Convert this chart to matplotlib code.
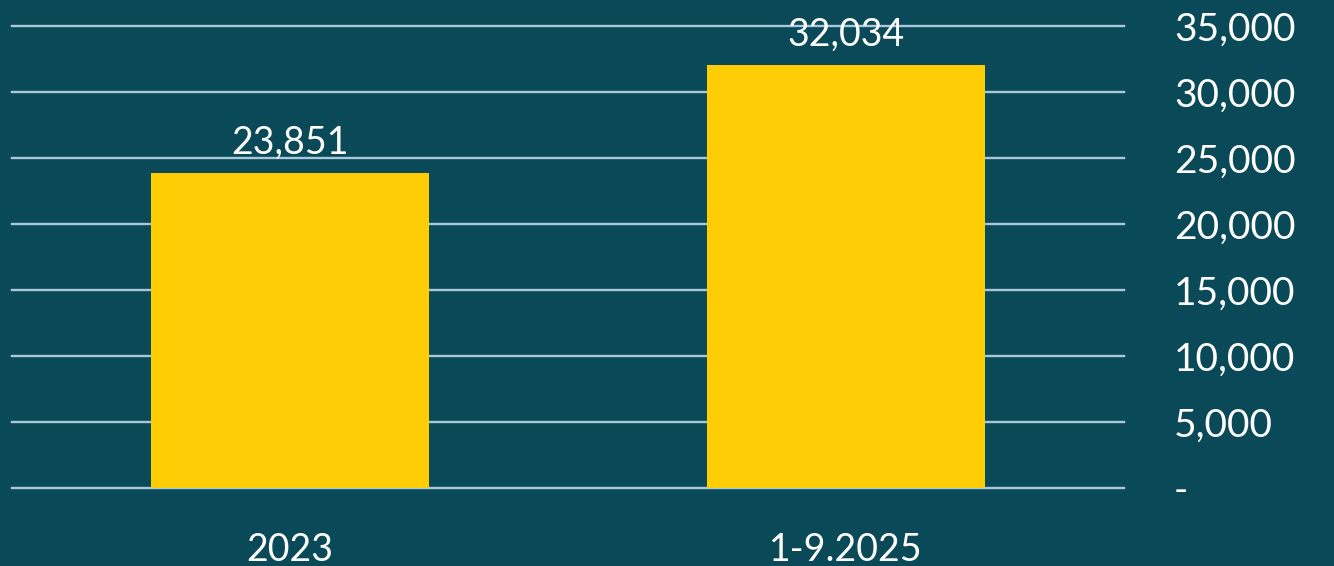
import matplotlib
matplotlib.use("Agg")
import matplotlib.pyplot as plt
from matplotlib.ticker import FuncFormatter

categories = ["2023", "1-9.2025"]
values = [23851, 32034]
yticks = [0, 5000, 10000, 15000, 20000, 25000, 30000, 35000]

bg = "#0a4a58"
bar_color = "#ffcd05"
grid_color = "#a9c8dc"

plt.rcParams['font.family'] = ['Lato', 'DejaVu Sans']

fig = plt.figure(figsize=(13.34, 5.66), dpi=100, facecolor=bg)
ax = fig.add_axes([12/1334, 1 - 488/566, 1112/1334, 462/566], facecolor=bg)

x = range(len(categories))
bars = ax.bar(x, values, width=0.5, color=bar_color, zorder=3)
ax.set_xlim(-0.5, 1.5)
ax.set_ylim(0, 35000)

ax.set_yticks(yticks)
ax.yaxis.tick_right()
ax.yaxis.set_major_formatter(FuncFormatter(lambda v, p: "-" if v == 0 else f"{int(v):,}"))
ax.tick_params(axis='y', length=0, pad=36, labelsize=28, labelcolor='white')
for lbl in ax.get_yticklabels():
    lbl.set_horizontalalignment('left')

ax.set_xticks(list(x))
ax.set_xticklabels(categories)
ax.tick_params(axis='x', length=0, pad=32, labelsize=27, labelcolor='white')

# gridlines drawn by hand so the edge lines are not clipped
for t in yticks:
    ax.axhline(t, color=grid_color, linewidth=1.7, zorder=1, clip_on=False)
for s in ax.spines.values():
    s.set_visible(False)

for b, v in zip(bars, values):
    ax.annotate(f"{v:,}", (b.get_x() + b.get_width() / 2, v), xytext=(0, 9),
                textcoords='offset points', ha='center', va='bottom',
                fontsize=27, color='white', zorder=4)

fig.savefig("out.png", dpi=100, facecolor=bg)
